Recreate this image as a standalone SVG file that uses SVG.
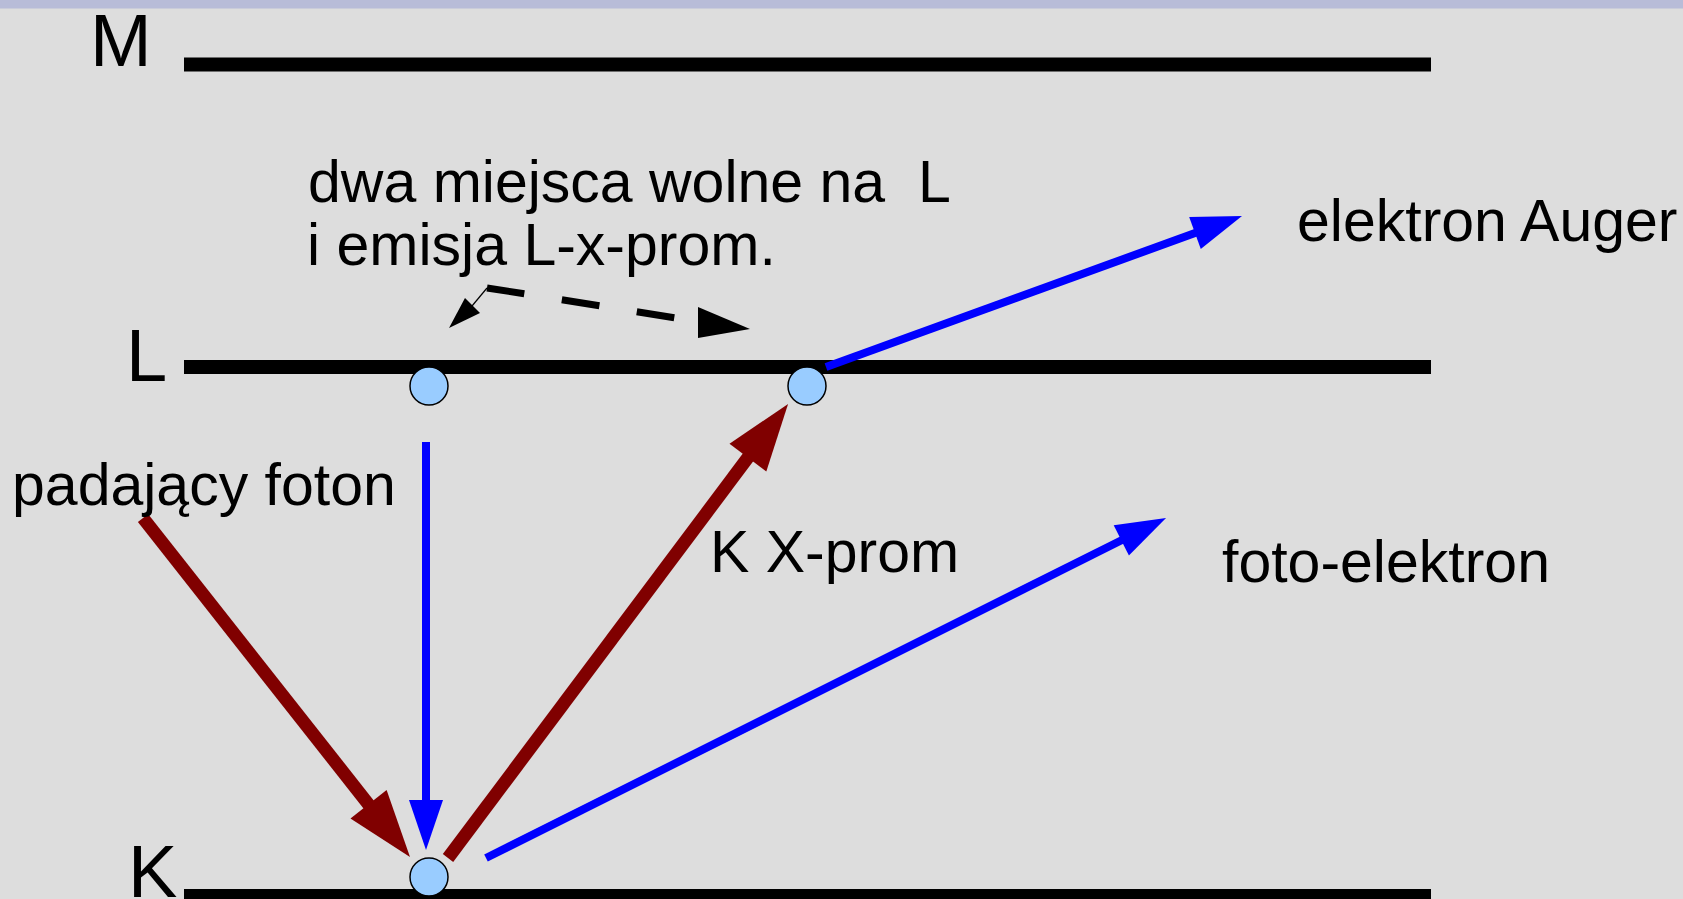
<svg xmlns="http://www.w3.org/2000/svg" width="1683" height="899" viewBox="0 0 1683 899">
<defs>
<style>
.lvl{stroke:#000;stroke-width:14;fill:none}
.big{font-family:"Liberation Sans",Arial,sans-serif;font-size:74px;fill:#000}
.lbl{font-family:"Liberation Sans",Arial,sans-serif;font-size:59px;fill:#000}
.el{fill:#99ccff;stroke:#000;stroke-width:1.5}
.blue{stroke:#0000ff;stroke-width:8;fill:none}
.red{stroke:#800000;stroke-width:13;fill:none}
.dash{stroke:#000;stroke-width:7;fill:none;stroke-dasharray:38 38}
</style>
<marker id="hb" markerUnits="userSpaceOnUse" markerWidth="50" markerHeight="34" refX="3" refY="17" orient="auto" overflow="visible">
<path d="M0,0 L50,17 L0,34 z" fill="#0000ff"/>
</marker>
<marker id="hr" markerUnits="userSpaceOnUse" markerWidth="67" markerHeight="46" refX="3" refY="23" orient="auto" overflow="visible">
<path d="M0,0 L67,23 L0,46 z" fill="#800000"/>
</marker>
</defs>
<rect width="1683" height="899" fill="#dddddd"/>
<rect width="1683" height="8.5" fill="#b8bcd8"/>

<g id="level-M">
<line class="lvl" x1="184" y1="64.5" x2="1431" y2="64.5"/>
<text class="big" x="90" y="66">M</text>
</g>
<g id="level-L">
<line class="lvl" x1="184" y1="367" x2="1431" y2="367"/>
<text class="big" x="126" y="381">L</text>
</g>
<g id="level-K">
<line class="lvl" x1="184" y1="896" x2="1431" y2="896"/>
<text class="big" x="128" y="897">K</text>
</g>

<g id="connectors">
<line class="red" x1="143" y1="518" x2="370.4" y2="806.7" marker-end="url(#hr)"/>
<line class="blue" x1="426" y1="442" x2="426" y2="803" marker-end="url(#hb)"/>
<line class="red" x1="448" y1="858" x2="749.7" y2="455.2" marker-end="url(#hr)"/>
<line class="blue" x1="486" y1="858" x2="1124" y2="539" marker-end="url(#hb)"/>
<line class="blue" x1="826" y1="367" x2="1197.8" y2="232" marker-end="url(#hb)"/>
<g id="dashed-arrow">
<line x1="472" y1="306" x2="487" y2="288" stroke="#000" stroke-width="1.2"/>
<path class="dash" d="M487,288 Q540,296 700,322"/>
<polygon points="449,328 465,298 480,313" fill="#000"/>
<polygon points="750,329 698,307 698,338" fill="#000"/>
</g>
</g>

<g id="electron-L1"><circle class="el" cx="429" cy="386" r="19"/></g>
<g id="electron-L2"><circle class="el" cx="807" cy="386" r="19"/></g>
<g id="electron-K"><circle class="el" cx="429" cy="877" r="19"/></g>

<g id="labels">
<text class="lbl" x="308" y="202">dwa miejsca wolne na&#160; L</text>
<text class="lbl" x="307" y="265">i emisja L-x-prom.</text>
<text class="lbl" x="1297" y="241">elektron Auger</text>
<text class="lbl" x="12" y="505">padający foton</text>
<text class="lbl" x="710" y="572">K X-prom</text>
<text class="lbl" x="1222" y="582">foto-elektron</text>
</g>
</svg>
